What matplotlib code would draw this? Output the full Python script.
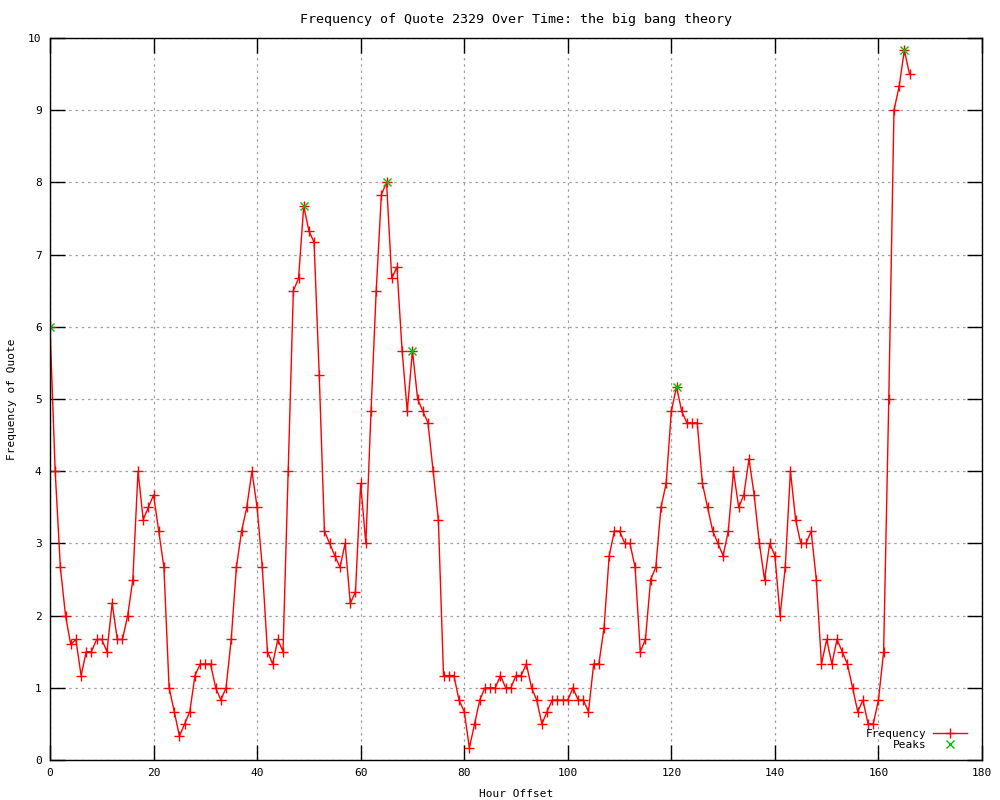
#!/usr/bin/env python3

import matplotlib
matplotlib.use("Agg")
import matplotlib.pyplot as plt

# hourly frequency values, x = 0..166
freq = [
    6.0, 4.0, 2.67, 2.0, 1.6, 1.67, 1.17, 1.5, 1.5, 1.67,
    1.67, 1.5, 2.17, 1.67, 1.67, 2.0, 2.5, 4.0, 3.33, 3.5,
    3.67, 3.17, 2.67, 1.0, 0.67, 0.33, 0.5, 0.67, 1.17, 1.33,
    1.33, 1.33, 1.0, 0.83, 1.0, 1.67, 2.67, 3.17, 3.5, 4.0,
    3.5, 2.67, 1.5, 1.33, 1.67, 1.5, 4.0, 6.5, 6.67, 7.67,
    7.33, 7.17, 5.33, 3.17, 3.0, 2.83, 2.67, 3.0, 2.17, 2.33,
    3.83, 3.0, 4.83, 6.5, 7.83, 8.0, 6.67, 6.83, 5.67, 4.83,
    5.67, 5.0, 4.83, 4.67, 4.0, 3.33, 1.17, 1.17, 1.17, 0.83,
    0.67, 0.17, 0.5, 0.83, 1.0, 1.0, 1.0, 1.17, 1.0, 1.0,
    1.17, 1.17, 1.33, 1.0, 0.83, 0.5, 0.67, 0.83, 0.83, 0.83,
    0.83, 1.0, 0.83, 0.83, 0.67, 1.33, 1.33, 1.83, 2.83, 3.17,
    3.17, 3.0, 3.0, 2.67, 1.5, 1.67, 2.5, 2.67, 3.5, 3.83,
    4.83, 5.17, 4.83, 4.67, 4.67, 4.67, 3.83, 3.5, 3.17, 3.0,
    2.83, 3.17, 4.0, 3.5, 3.67, 4.17, 3.67, 3.0, 2.5, 3.0,
    2.83, 2.0, 2.67, 4.0, 3.33, 3.0, 3.0, 3.17, 2.5, 1.33,
    1.67, 1.33, 1.67, 1.5, 1.33, 1.0, 0.67, 0.83, 0.5, 0.5,
    0.83, 1.5, 5.0, 9.0, 9.33, 9.83, 9.5,
]
hours = list(range(len(freq)))

peak_hours = [0, 49, 65, 70, 121, 165]
peak_vals = [6.0, 7.67, 8.0, 5.67, 5.17, 9.83]

x_ticks = [0, 20, 40, 60, 80, 100, 120, 140, 160, 180]
y_ticks = [0, 1, 2, 3, 4, 5, 6, 7, 8, 9, 10]


def main():
    plt.rcParams["font.family"] = ["DejaVu Sans Mono"]
    plt.rcParams["font.size"] = 8

    fig = plt.figure(figsize=(10, 8), dpi=100)
    ax = fig.add_axes([0.05, 0.05, 0.932, 0.9025])

    ax.plot(hours, freq, color="#ff0000", linewidth=1, marker="+",
            markersize=6.5, markeredgewidth=1, label="Frequency")
    ax.plot(peak_hours, peak_vals, linestyle="none", color="#00c000",
            marker="x", markersize=6, markeredgewidth=1, label="Peaks")

    ax.set_xlim(0, 180)
    ax.set_ylim(0, 10)
    ax.set_xticks(x_ticks)
    ax.set_yticks(y_ticks)
    ax.tick_params(direction="in", top=True, right=True, length=11,
                   width=1, pad=6)
    ax.grid(True, color="#a0a0a0", linestyle=(0, (2, 3)), linewidth=0.9)
    ax.set_axisbelow(True)
    for spine in ax.spines.values():
        spine.set_linewidth(1)

    ax.set_title("Frequency of Quote 2329 Over Time: the big bang theory",
                 pad=11)
    ax.set_xlabel("Hour Offset", labelpad=8)
    ax.set_ylabel("Frequency of Quote", labelpad=8)

    ax.legend(loc="lower right", bbox_to_anchor=(0.992, 0.003),
              frameon=False, markerfirst=False, handlelength=3,
              labelspacing=0.1, borderaxespad=0.3, handletextpad=0.6)

    fig.savefig("out.png", dpi=100)


if __name__ == "__main__":
    main()
